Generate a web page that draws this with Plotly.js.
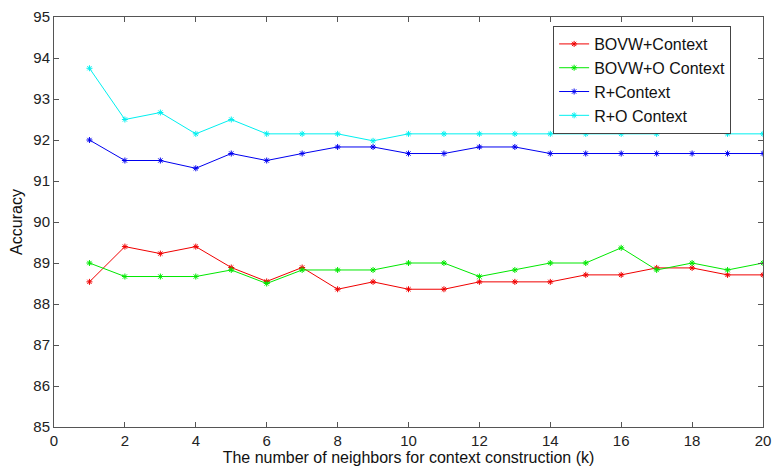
<!DOCTYPE html>
<html>
<head>
<meta charset="utf-8">
<script src="https://cdn.plot.ly/plotly-3.0.1.min.js"></script>
<style>html,body{margin:0;padding:0;background:#fff;}#chart{width:774px;height:469px;}</style>
</head>
<body>
<div id="chart"></div>
<script>
var k = [1,2,3,4,5,6,7,8,9,10,11,12,13,14,15,16,17,18,19,20];
var bovwContext = [88.54,89.40,89.23,89.40,88.89,88.55,88.89,88.36,88.54,88.36,88.36,88.54,88.54,88.54,88.71,88.71,88.88,88.88,88.71,88.71];
var bovwOContext = [89.00,88.67,88.67,88.67,88.83,88.50,88.83,88.83,88.83,89.00,89.00,88.67,88.83,89.00,89.00,89.37,88.83,89.00,88.83,89.00];
var rContext = [92.00,91.50,91.50,91.31,91.67,91.50,91.67,91.83,91.83,91.67,91.67,91.83,91.83,91.67,91.67,91.67,91.67,91.67,91.67,91.67];
var rOContext = [93.75,92.50,92.67,92.15,92.50,92.15,92.15,92.15,91.98,92.15,92.15,92.15,92.15,92.15,92.15,92.15,92.15,92.33,92.15,92.15];
var names = ['BOVW+Context','BOVW+O Context','R+Context','R+O Context'];
var colors = ['#f00000','#00e800','#0000f0','#00f0f0'];
var series = [bovwContext, bovwOContext, rContext, rOContext];
var xTicks = [0,2,4,6,8,10,12,14,16,18,20];
var yTicks = [85,86,87,88,89,90,91,92,93,94,95];

var traces = series.map(function(s,i){
  return {x:k, y:s, name:names[i], type:'scatter', mode:'lines+markers',
    line:{color:colors[i], width:1},
    marker:{symbol:'asterisk-open', size:5, color:colors[i], line:{color:colors[i], width:1}}};
});
var axisCommon = {showline:true, linecolor:'#555', linewidth:1, mirror:'allticks', ticks:'inside', ticklen:5, tickcolor:'#555', showgrid:false, zeroline:false, tickfont:{family:'Liberation Sans, Arial', size:15, color:'#222'}};
var layout = {
  width:774, height:469,
  margin:{l:54, r:11, t:17, b:42},
  paper_bgcolor:'#fff', plot_bgcolor:'#fff',
  showlegend:true,
  legend:{x:0.704, y:0.978, xanchor:'left', yanchor:'top', bgcolor:'#fff', bordercolor:'#444', borderwidth:1, font:{family:'Liberation Sans, Arial', size:16, color:'#111'}, tracegroupgap:0, itemwidth:30},
  xaxis:Object.assign({}, axisCommon, {range:[0,20], tickvals:xTicks, ticktext:xTicks.map(String),
    title:{text:'The number of neighbors for context construction (k)', font:{family:'Liberation Sans, Arial', size:16, color:'#111'}, standoff:2}}),
  yaxis:Object.assign({}, axisCommon, {range:[85,95], tickvals:yTicks, ticktext:yTicks.map(String),
    title:{text:'Accuracy', font:{family:'Liberation Sans, Arial', size:16, color:'#111'}, standoff:6}})
};
Plotly.newPlot('chart', traces, layout, {displayModeBar:false, staticPlot:true});
</script>
</body>
</html>
